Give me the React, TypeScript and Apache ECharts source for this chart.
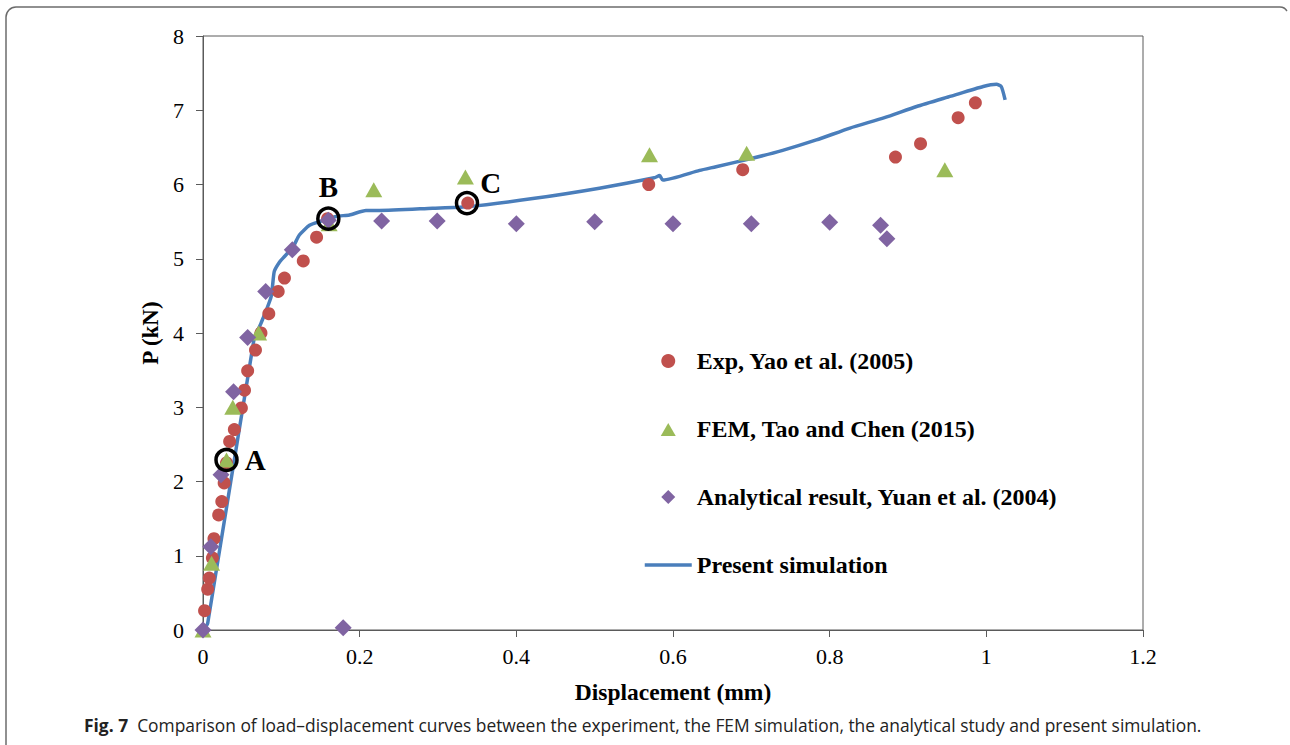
import React, { useEffect, useRef } from "react";
import * as echarts from "echarts";

// Experimental points (Yao et al. 2005)
const expDisp = [0.002, 0.006, 0.008, 0.012, 0.014, 0.020, 0.024, 0.027, 0.030, 0.034, 0.040, 0.049, 0.053, 0.057, 0.067, 0.074, 0.084, 0.096, 0.104, 0.128, 0.145, 0.159, 0.338, 0.569, 0.689, 0.884, 0.916, 0.964, 0.986];
const expLoad = [0.26, 0.55, 0.70, 0.97, 1.23, 1.55, 1.73, 1.98, 2.25, 2.54, 2.70, 2.99, 3.23, 3.49, 3.77, 4.00, 4.26, 4.56, 4.74, 4.97, 5.29, 5.54, 5.75, 6.00, 6.20, 6.37, 6.55, 6.90, 7.10];

// FEM results (Tao and Chen 2015)
const femDisp = [0, 0.011, 0.030, 0.038, 0.071, 0.161, 0.218, 0.335, 0.570, 0.694, 0.947];
const femLoad = [0, 0.90, 2.29, 3.00, 4.00, 5.47, 5.93, 6.10, 6.40, 6.42, 6.20];

// Analytical results (Yuan et al. 2004)
const anaDisp = [0, 0.010, 0.023, 0.039, 0.057, 0.080, 0.114, 0.160, 0.228, 0.299, 0.400, 0.500, 0.600, 0.700, 0.800, 0.865, 0.873, 0.179];
const anaLoad = [0, 1.12, 2.09, 3.21, 3.94, 4.56, 5.12, 5.52, 5.51, 5.51, 5.47, 5.50, 5.47, 5.47, 5.49, 5.45, 5.27, 0.03];

// Present simulation curve
const simDisp = [0, 0.006, 0.065, 0.074, 0.087, 0.091, 0.098, 0.104, 0.115, 0.123, 0.136, 0.149, 0.170, 0.187, 0.208, 0.225, 0.293, 0.336, 0.421, 0.506, 0.576, 0.583, 0.587, 0.634, 0.655, 0.700, 0.740, 0.783, 0.826, 0.870, 0.911, 0.955, 0.996, 1.013, 1.019, 1.024];
const simLoad = [0, 0.09, 3.91, 4.13, 4.49, 4.83, 4.96, 5.03, 5.16, 5.32, 5.45, 5.50, 5.57, 5.59, 5.65, 5.65, 5.68, 5.70, 5.81, 5.95, 6.09, 6.12, 6.06, 6.19, 6.24, 6.35, 6.46, 6.60, 6.76, 6.90, 7.05, 7.19, 7.32, 7.35, 7.32, 7.14];

// Highlighted states on the curve
const stateNames = ["A", "B", "C"];
const stateDisp = [0.030, 0.160, 0.337];
const stateLoad = [2.29, 5.54, 5.75];

const xTicks = { min: 0, max: 1.2, interval: 0.2 };
const yTicks = { min: 0, max: 8, interval: 1 };

const seriesNames = [
  "Exp, Yao et al. (2005)",
  "FEM, Tao and Chen (2015)",
  "Analytical result, Yuan et al. (2004)",
  "Present simulation",
];

const serif = "'Liberation Serif', 'Times New Roman', serif";
const sans = "'Open Sans', 'Noto Sans', sans-serif";
const axisColor = "#5a5a5a";
const blue = "#4a7ebb";

// Legend icons: the leading moves span the whole 47x14 icon box so the
// small shape keeps its proportions and sits in the middle of the box.
const triangleIcon = "path://M0,0M47,14M16,14L23.5,1L31,14Z";
const diamondIcon = "path://M0,0M47,14M23.5,0L30.5,7L23.5,14L16.5,7Z";

function zip(xs: number[], ys: number[]) {
  return xs.map((x, i) => [x, ys[i]]);
}

export default function App() {
  const ref = useRef<HTMLDivElement>(null);

  useEffect(() => {
    if (!ref.current) return;
    const chart = echarts.init(ref.current, undefined, { renderer: "svg" });
    const frame = { stroke: "#6b6b6b", lineWidth: 1.5, fill: "none" };

    chart.setOption({
      animation: false,
      backgroundColor: "#fff",
      grid: {
        left: 203,
        right: 147,
        top: 36,
        bottom: 115,
        show: true,
        borderColor: axisColor,
        borderWidth: 1,
      },
      xAxis: {
        type: "value",
        ...xTicks,
        name: "Displacement (mm)",
        nameLocation: "middle",
        nameGap: 50,
        nameTextStyle: { fontFamily: serif, fontWeight: "bold", fontSize: 23.5, color: "#000" },
        axisLine: { show: true, lineStyle: { color: axisColor, width: 1 } },
        axisTick: { show: true, length: 7, lineStyle: { color: axisColor } },
        splitLine: { show: false },
        axisLabel: { fontFamily: serif, fontSize: 22, color: "#000", margin: 15 },
      },
      yAxis: {
        type: "value",
        ...yTicks,
        name: "P (kN)",
        nameLocation: "middle",
        nameGap: 41,
        nameRotate: 90,
        nameTextStyle: { fontFamily: serif, fontWeight: "bold", fontSize: 23, color: "#000" },
        axisLine: { show: true, lineStyle: { color: axisColor, width: 1 } },
        axisTick: { show: true, length: 7, lineStyle: { color: axisColor } },
        splitLine: { show: false },
        axisLabel: { fontFamily: serif, fontSize: 22, color: "#000", margin: 19 },
      },
      legend: {
        data: [
          { name: seriesNames[0], icon: "circle" },
          { name: seriesNames[1], icon: triangleIcon },
          { name: seriesNames[2], icon: diamondIcon },
          {
            name: seriesNames[3],
            itemStyle: { color: "rgba(0,0,0,0)", borderWidth: 0 },
            lineStyle: { color: blue, width: 3.5 },
          },
        ],
        orient: "vertical",
        left: 638,
        top: 344,
        itemWidth: 47,
        itemHeight: 14,
        itemGap: 44,
        textStyle: { fontFamily: serif, fontWeight: "bold", fontSize: 24, color: "#000" },
      },
      series: [
        {
          name: seriesNames[3],
          type: "line",
          data: zip(simDisp, simLoad),
          symbol: "none",
          smooth: 0.2,
          lineStyle: { color: blue, width: 3.5 },
          itemStyle: { color: blue },
          z: 1,
        },
        {
          name: seriesNames[0],
          type: "scatter",
          data: zip(expDisp, expLoad),
          symbol: "circle",
          symbolSize: 13,
          itemStyle: { color: "#c0504d", opacity: 1 },
          z: 2,
        },
        {
          name: seriesNames[1],
          type: "scatter",
          data: zip(femDisp, femLoad),
          symbol: "triangle",
          symbolSize: [17, 15],
          itemStyle: { color: "#9bbb59", opacity: 1 },
          z: 3,
        },
        {
          name: seriesNames[2],
          type: "scatter",
          data: zip(anaDisp, anaLoad),
          symbol: "diamond",
          symbolSize: 17,
          itemStyle: { color: "#8064a2", opacity: 1 },
          z: 4,
        },
        {
          name: "states",
          type: "scatter",
          data: stateDisp.map((x, i) => ({
            value: [x, stateLoad[i]],
            name: stateNames[i],
            label:
              i === 0
                ? { position: "right", distance: 6 }
                : i === 1
                ? { position: "top", distance: 5 }
                : { position: "right", distance: 1, offset: [0, -20] },
          })),
          symbol: "circle",
          symbolSize: 21,
          itemStyle: { color: "rgba(0,0,0,0)", borderColor: "#000", borderWidth: 3.5, opacity: 1 },
          label: {
            show: true,
            formatter: "{b}",
            fontFamily: serif,
            fontWeight: "bold",
            fontSize: 29,
            color: "#000",
          },
          z: 5,
        },
      ],
      graphic: [
        { type: "line", shape: { x1: 16, y1: 7, x2: 1280, y2: 7 }, style: frame },
        { type: "line", shape: { x1: 6, y1: 17, x2: 6, y2: 745 }, style: frame },
        { type: "arc", shape: { cx: 16, cy: 17, r: 10, startAngle: Math.PI, endAngle: Math.PI * 1.5 }, style: frame },
        { type: "arc", shape: { cx: 1280, cy: 15, r: 8, startAngle: -Math.PI / 2, endAngle: -Math.PI / 6 }, style: frame },
        {
          type: "text",
          left: 84,
          top: 716,
          style: {
            text: "{b|Fig. 7}  Comparison of load–displacement curves between the experiment, the FEM simulation, the analytical study and present simulation.",
            fontFamily: sans,
            fontSize: 17.4,
            fill: "#222",
            rich: {
              b: { fontFamily: sans, fontSize: 17.4, fontWeight: "bold", fill: "#222" },
            },
          },
        },
      ],
    });

    return () => chart.dispose();
  }, []);

  return (
    <div
      ref={ref}
      style={{ position: "absolute", left: 0, top: 0, width: 1290, height: 745 }}
    />
  );
}
